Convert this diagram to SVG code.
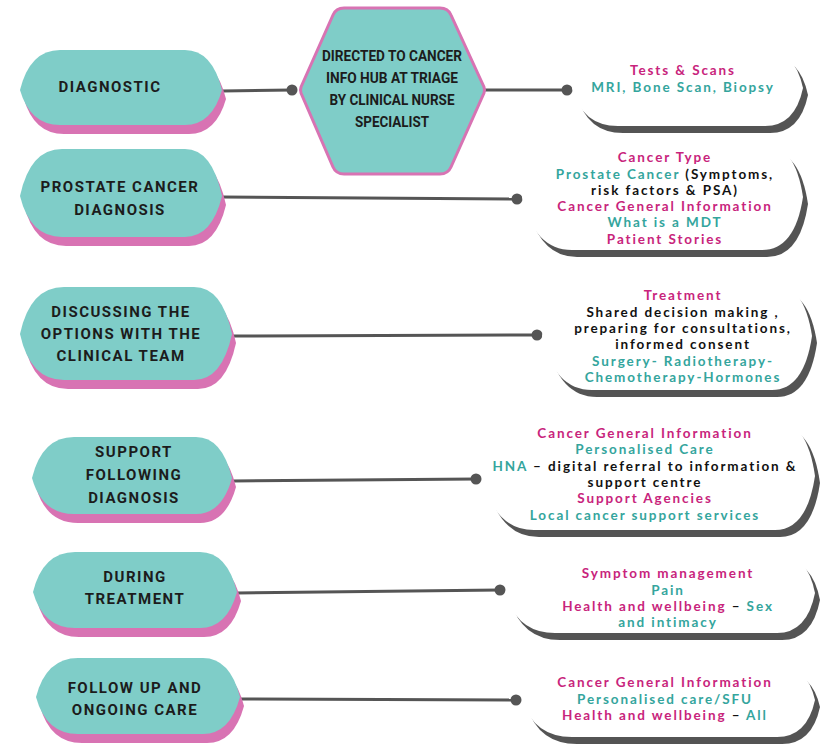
<svg xmlns="http://www.w3.org/2000/svg" width="820" height="744" viewBox="0 0 820 744">
<style>
.bg{fill:#ffffff}
.node{fill:#7fcdc8}
.nshadow{fill:#d873b3}
.box{fill:#ffffff}
.bshadow{fill:#545454}
.hex{fill:#7fcdc8;stroke:#d873b3;stroke-width:3}
.lbl{font-family:Roboto,"Liberation Sans",sans-serif;font-weight:700;font-size:15px;letter-spacing:1.5px;fill:#1c1c1c;text-anchor:middle}
.hlbl{font-family:Roboto,"Liberation Sans",sans-serif;font-weight:700;font-size:14px;fill:#1c1c1c;text-anchor:middle}
.t{font-family:Lato,"Noto Sans",sans-serif;font-weight:700;font-size:13.5px;letter-spacing:1.9px;text-anchor:middle}
.p{fill:#c8247c}
.g{fill:#34a59d}
.k{fill:#111111}
.conn line{stroke:#555555;stroke-width:3}
.conn circle{fill:#555555}
</style>
<rect class="bg" x="0" y="0" width="820" height="744"/>

<g id="connectors" class="conn">
  <line x1="222" y1="91" x2="292" y2="90"/><circle cx="292" cy="90" r="5.5"/>
  <line x1="485" y1="90" x2="567" y2="90"/><circle cx="567" cy="90" r="5.5"/>
  <line x1="222" y1="197" x2="517" y2="199"/><circle cx="517" cy="199" r="5.5"/>
  <line x1="232" y1="336" x2="537" y2="335"/><circle cx="537" cy="335" r="5.5"/>
  <line x1="232" y1="481" x2="476" y2="479"/><circle cx="476" cy="479" r="5.5"/>
  <line x1="237" y1="593" x2="500" y2="590"/><circle cx="500" cy="590" r="5.5"/>
  <line x1="240" y1="699" x2="516" y2="700"/><circle cx="516" cy="700" r="5.5"/>
</g>

<g id="n-diagnostic">
  <path class="nshadow" transform="translate(4,9)" d="M20,90 Q30,50 60,50 H185 Q212,50 222,90 Q212,125 185,125 H60 Q30,125 20,90Z"/>
  <path class="node" d="M20,90 Q30,50 60,50 H185 Q212,50 222,90 Q212,125 185,125 H60 Q30,125 20,90Z"/>
  <text class="lbl" x="110" y="92">DIAGNOSTIC</text>
</g>

<g id="n-hub">
  <path class="hex" d="M301,87 L333,15 Q336,8 344,8 H440 Q448,8 451,15 L484,87 Q485,90 484,93 L451,167 Q448,174 440,174 H344 Q336,174 333,167 L301,93 Q300,90 301,87Z"/>
  <text class="hlbl" x="392" y="61" textLength="140" lengthAdjust="spacingAndGlyphs">DIRECTED TO CANCER</text>
  <text class="hlbl" x="392" y="83" textLength="132" lengthAdjust="spacingAndGlyphs">INFO HUB AT TRIAGE</text>
  <text class="hlbl" x="392" y="105" textLength="125" lengthAdjust="spacingAndGlyphs">BY CLINICAL NURSE</text>
  <text class="hlbl" x="392" y="127" textLength="74" lengthAdjust="spacingAndGlyphs">SPECIALIST</text>
</g>

<g id="n-prostate">
  <path class="nshadow" transform="translate(4,9)" d="M20,196 Q30,149 62,149 H185 Q212,149 222,196 Q212,237 185,237 H62 Q30,237 20,196Z"/>
  <path class="node" d="M20,196 Q30,149 62,149 H185 Q212,149 222,196 Q212,237 185,237 H62 Q30,237 20,196Z"/>
  <text class="lbl" x="120" y="192">PROSTATE CANCER</text>
  <text class="lbl" x="120" y="215">DIAGNOSIS</text>
</g>

<g id="n-discussing">
  <path class="nshadow" transform="translate(4,9)" d="M20,334 Q30,287 64,287 H194 Q222,287 232,334 Q222,380 194,380 H64 Q30,380 20,334Z"/>
  <path class="node" d="M20,334 Q30,287 64,287 H194 Q222,287 232,334 Q222,380 194,380 H64 Q30,380 20,334Z"/>
  <text class="lbl" x="121" y="317">DISCUSSING THE</text>
  <text class="lbl" x="121" y="339">OPTIONS WITH THE</text>
  <text class="lbl" x="121" y="361">CLINICAL TEAM</text>
</g>

<g id="n-support">
  <path class="nshadow" transform="translate(4,9)" d="M32,478 Q42,437 74,437 H196 Q222,437 232,478 Q222,514 196,514 H74 Q42,514 32,478Z"/>
  <path class="node" d="M32,478 Q42,437 74,437 H196 Q222,437 232,478 Q222,514 196,514 H74 Q42,514 32,478Z"/>
  <text class="lbl" x="134" y="457">SUPPORT</text>
  <text class="lbl" x="134" y="480">FOLLOWING</text>
  <text class="lbl" x="134" y="503">DIAGNOSIS</text>
</g>

<g id="n-during">
  <path class="nshadow" transform="translate(4,9)" d="M33,592 Q43,552 75,552 H200 Q227,552 237,592 Q227,628 200,628 H75 Q43,628 33,592Z"/>
  <path class="node" d="M33,592 Q43,552 75,552 H200 Q227,552 237,592 Q227,628 200,628 H75 Q43,628 33,592Z"/>
  <text class="lbl" x="135" y="582">DURING</text>
  <text class="lbl" x="135" y="604">TREATMENT</text>
</g>

<g id="n-follow">
  <path class="nshadow" transform="translate(4,9)" d="M36,697 Q46,658 78,658 H203 Q230,658 240,697 Q230,734 203,734 H78 Q46,734 36,697Z"/>
  <path class="node" d="M36,697 Q46,658 78,658 H203 Q230,658 240,697 Q230,734 203,734 H78 Q46,734 36,697Z"/>
  <text class="lbl" x="135" y="693">FOLLOW UP AND</text>
  <text class="lbl" x="135" y="715">ONGOING CARE</text>
</g>

<g id="b-tests">
  <path class="bshadow" transform="translate(5,7)" d="M572,88 Q582,50 618,50 H765 Q795,50 803,88 Q795,126 765,126 H618 Q582,126 572,88Z"/>
  <path class="box" d="M572,88 Q582,50 618,50 H765 Q795,50 803,88 Q795,126 765,126 H618 Q582,126 572,88Z"/>
  <text class="t p" x="683" y="75">Tests &amp; Scans</text>
  <text class="t g" x="683" y="92">MRI, Bone Scan, Biopsy</text>
</g>

<g id="b-type">
  <path class="bshadow" transform="translate(5,7)" d="M522,197 Q534,143 572,143 H762 Q795,143 803,197 Q795,250 762,250 H572 Q534,250 522,197Z"/>
  <path class="box" d="M522,197 Q534,143 572,143 H762 Q795,143 803,197 Q795,250 762,250 H572 Q534,250 522,197Z"/>
  <text class="t p" x="665" y="162">Cancer Type</text>
  <text class="t" x="665" y="179"><tspan class="g">Prostate Cancer</tspan><tspan class="k"> (Symptoms,</tspan></text>
  <text class="t k" x="665" y="195">risk factors &amp; PSA)</text>
  <text class="t p" x="665" y="211">Cancer General Information</text>
  <text class="t g" x="665" y="227">What is a MDT</text>
  <text class="t p" x="665" y="244">Patient Stories</text>
</g>

<g id="b-treatment">
  <path class="bshadow" transform="translate(5,7)" d="M542,336 Q554,283 592,283 H772 Q804,283 812,336 Q804,390 772,390 H592 Q554,390 542,336Z"/>
  <path class="box" d="M542,336 Q554,283 592,283 H772 Q804,283 812,336 Q804,390 772,390 H592 Q554,390 542,336Z"/>
  <text class="t p" x="683" y="300">Treatment</text>
  <text class="t k" x="683" y="317">Shared decision making ,</text>
  <text class="t k" x="683" y="333">preparing for consultations,</text>
  <text class="t k" x="683" y="349">informed consent</text>
  <text class="t g" x="683" y="366">Surgery- Radiotherapy-</text>
  <text class="t g" x="683" y="382">Chemotherapy-Hormones</text>
</g>

<g id="b-support">
  <path class="bshadow" transform="translate(5,7)" d="M482,476 Q494,420 534,420 H775 Q807,420 815,476 Q807,530 775,530 H534 Q494,530 482,476Z"/>
  <path class="box" d="M482,476 Q494,420 534,420 H775 Q807,420 815,476 Q807,530 775,530 H534 Q494,530 482,476Z"/>
  <text class="t p" x="645" y="438">Cancer General Information</text>
  <text class="t g" x="645" y="454">Personalised Care</text>
  <text class="t" x="645" y="471"><tspan class="g">HNA</tspan><tspan class="k"> – digital referral to information &amp;</tspan></text>
  <text class="t k" x="645" y="487">support centre</text>
  <text class="t p" x="645" y="503">Support Agencies</text>
  <text class="t g" x="645" y="520">Local cancer support services</text>
</g>

<g id="b-symptom">
  <path class="bshadow" transform="translate(5,7)" d="M505,593 Q517,553 555,553 H777 Q807,553 815,593 Q807,633 777,633 H555 Q517,633 505,593Z"/>
  <path class="box" d="M505,593 Q517,553 555,553 H777 Q807,553 815,593 Q807,633 777,633 H555 Q517,633 505,593Z"/>
  <text class="t p" x="668" y="578">Symptom management</text>
  <text class="t g" x="668" y="595">Pain</text>
  <text class="t" x="668" y="611"><tspan class="p">Health and wellbeing</tspan><tspan class="k"> – </tspan><tspan class="g">Sex</tspan></text>
  <text class="t g" x="668" y="627">and intimacy</text>
</g>

<g id="b-follow">
  <path class="bshadow" transform="translate(5,7)" d="M522,700 Q534,665 572,665 H777 Q807,665 815,700 Q807,737 777,737 H572 Q534,737 522,700Z"/>
  <path class="box" d="M522,700 Q534,665 572,665 H777 Q807,665 815,700 Q807,737 777,737 H572 Q534,737 522,700Z"/>
  <text class="t p" x="665" y="687">Cancer General Information</text>
  <text class="t g" x="665" y="704">Personalised care/SFU</text>
  <text class="t" x="665" y="720"><tspan class="p">Health and wellbeing</tspan><tspan class="k"> – </tspan><tspan class="g">All</tspan></text>
</g>
</svg>
